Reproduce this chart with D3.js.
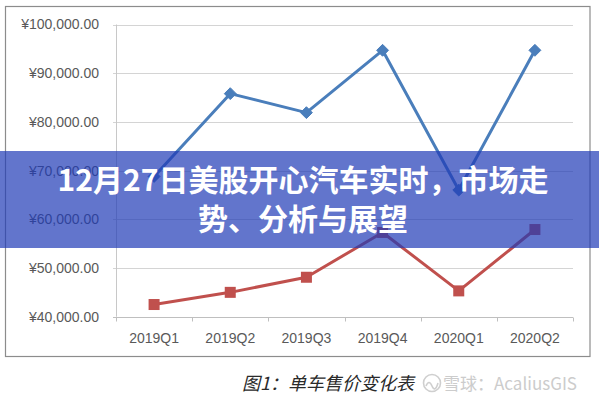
<!DOCTYPE html>
<html>
<head>
<meta charset="utf-8">
<script src="https://cdn.jsdelivr.net/npm/d3@7"></script>
<style>
  html, body { margin: 0; padding: 0; background: #fff; }
  svg { display: block; }
</style>
</head>
<body>
<svg id="chart" width="599" height="400"></svg>
<script>
// Quarterly unit selling price (CNY)
const categories = ["2019Q1", "2019Q2", "2019Q3", "2019Q4", "2020Q1", "2020Q2"];
const seriesBlue = [68800, 85800, 81900, 94700, 66000, 94700];
const seriesRed  = [42500, 45000, 48100, 57300, 45300, 57900];
const yTicks = [40000, 50000, 60000, 70000, 80000, 90000, 100000];
const titleLines = ["12月27日美股开心汽车实时，市场走", "势、分析与展望"];
const captionText = "图1：单车售价变化表";
const watermarkText = "雪球：AcaliusGIS";

const svg = d3.select("#chart");
const plot = { left: 116, right: 573, top: 24.5, bottom: 316.7 };

const x = d3.scaleBand().domain(categories).range([plot.left, plot.right]).padding(0);
const y = d3.scaleLinear().domain([40000, 100000]).range([plot.bottom, plot.top]);
const cx = d => x(d) + x.bandwidth() / 2;

// outer chart frame
svg.append("rect")
  .attr("x", 5.5).attr("y", 6.5).attr("width", 584.5).attr("height", 350)
  .attr("fill", "#fff").attr("stroke", "#8c8c8c").attr("stroke-width", 1.2);

// horizontal gridlines
svg.append("g").selectAll("line").data(yTicks.filter(v => v > 40000)).join("line")
  .attr("x1", plot.left - 3).attr("x2", plot.right)
  .attr("y1", d => Math.round(y(d)) + 0.5).attr("y2", d => Math.round(y(d)) + 0.5)
  .attr("stroke", "#d4d4d4").attr("stroke-width", 1);

// vertical axis line
svg.append("line")
  .attr("x1", plot.left + 0.5).attr("x2", plot.left + 0.5)
  .attr("y1", plot.top).attr("y2", plot.bottom)
  .attr("stroke", "#c8c8c8");

// y axis labels
const yAxis = svg.append("g")
  .attr("transform", `translate(${plot.left},0)`)
  .call(d3.axisLeft(y).tickValues(yTicks).tickSize(0).tickPadding(17)
    .tickFormat(d => "¥" + d3.format(",.2f")(d)));
yAxis.select(".domain").remove();
yAxis.selectAll("text")
  .attr("font-family", "Liberation Sans, Arial, sans-serif")
  .attr("font-size", 14).attr("fill", "#595959");

// x axis line with boundary tick marks
const xAxisY = Math.round(plot.bottom) + 0.5;
svg.append("line")
  .attr("x1", plot.left - 3).attr("x2", plot.right)
  .attr("y1", xAxisY).attr("y2", xAxisY)
  .attr("stroke", "#bfbfbf");
const boundaries = categories.map(c => x(c)).concat([x.range()[1]]);
svg.append("g").selectAll("line").data(boundaries).join("line")
  .attr("x1", d => Math.round(d) + 0.5).attr("x2", d => Math.round(d) + 0.5)
  .attr("y1", xAxisY).attr("y2", xAxisY + 4)
  .attr("stroke", "#bfbfbf");

const xAxis = svg.append("g")
  .attr("transform", `translate(0,${plot.bottom})`)
  .call(d3.axisBottom(x).tickSize(0).tickPadding(16));
xAxis.select(".domain").remove();
xAxis.selectAll("text")
  .attr("font-family", "Liberation Sans, Arial, sans-serif")
  .attr("font-size", 14).attr("fill", "#595959");

// lines
const line = d3.line().x((d, i) => cx(categories[i])).y(d => y(d));
const blue = "#4a7ebb", red = "#c0504d";

svg.append("path").datum(seriesBlue)
  .attr("d", line).attr("fill", "none")
  .attr("stroke", blue).attr("stroke-width", 3).attr("stroke-linejoin", "round");
svg.append("path").datum(seriesRed)
  .attr("d", line).attr("fill", "none")
  .attr("stroke", red).attr("stroke-width", 3).attr("stroke-linejoin", "round");

// markers
const diamond = d3.symbol().type(d3.symbolDiamond2).size(90);
svg.append("g").selectAll("path").data(seriesBlue).join("path")
  .attr("d", diamond)
  .attr("transform", (d, i) => `translate(${cx(categories[i])},${y(d)})`)
  .attr("fill", blue).attr("stroke", blue).attr("stroke-width", 1);

svg.append("g").selectAll("rect").data(seriesRed).join("rect")
  .attr("x", (d, i) => cx(categories[i]) - 5.5)
  .attr("y", d => y(d) - 5.5)
  .attr("width", 11).attr("height", 11)
  .attr("fill", red);

// caption below the chart
svg.append("text")
  .attr("x", 242).attr("y", 390)
  .attr("font-family", "Noto Sans CJK SC, sans-serif")
  .attr("font-size", 18).attr("font-style", "italic")
  .attr("fill", "#2a2a2a")
  .text(captionText);

// watermark
const wm = svg.append("g").attr("fill", "none").attr("stroke", "#cfcfcf").attr("stroke-width", 1.6);
wm.append("circle").attr("cx", 432).attr("cy", 383).attr("r", 8.5);
wm.append("path").attr("d", "M426,386 q3,-7 6,0 q3,7 6,-3");
svg.append("text")
  .attr("x", 443).attr("y", 390)
  .attr("font-family", "Noto Sans CJK SC, Liberation Sans, sans-serif")
  .attr("font-size", 17).attr("fill", "#cccccc")
  .text(watermarkText);

// headline banner
svg.append("rect")
  .attr("x", 0).attr("y", 151).attr("width", 599).attr("height", 97)
  .attr("fill", "rgb(31,58,182)").attr("fill-opacity", 0.7);

const title = svg.append("text")
  .attr("text-anchor", "middle")
  .attr("font-family", "Noto Sans CJK SC, sans-serif")
  .attr("font-weight", "bold").attr("font-size", 30)
  .attr("fill", "#ffffff");
title.selectAll("tspan").data(titleLines).join("tspan")
  .attr("x", 303)
  .attr("y", (d, i) => 191 + i * 39)
  .text(d => d);
</script>
</body>
</html>
